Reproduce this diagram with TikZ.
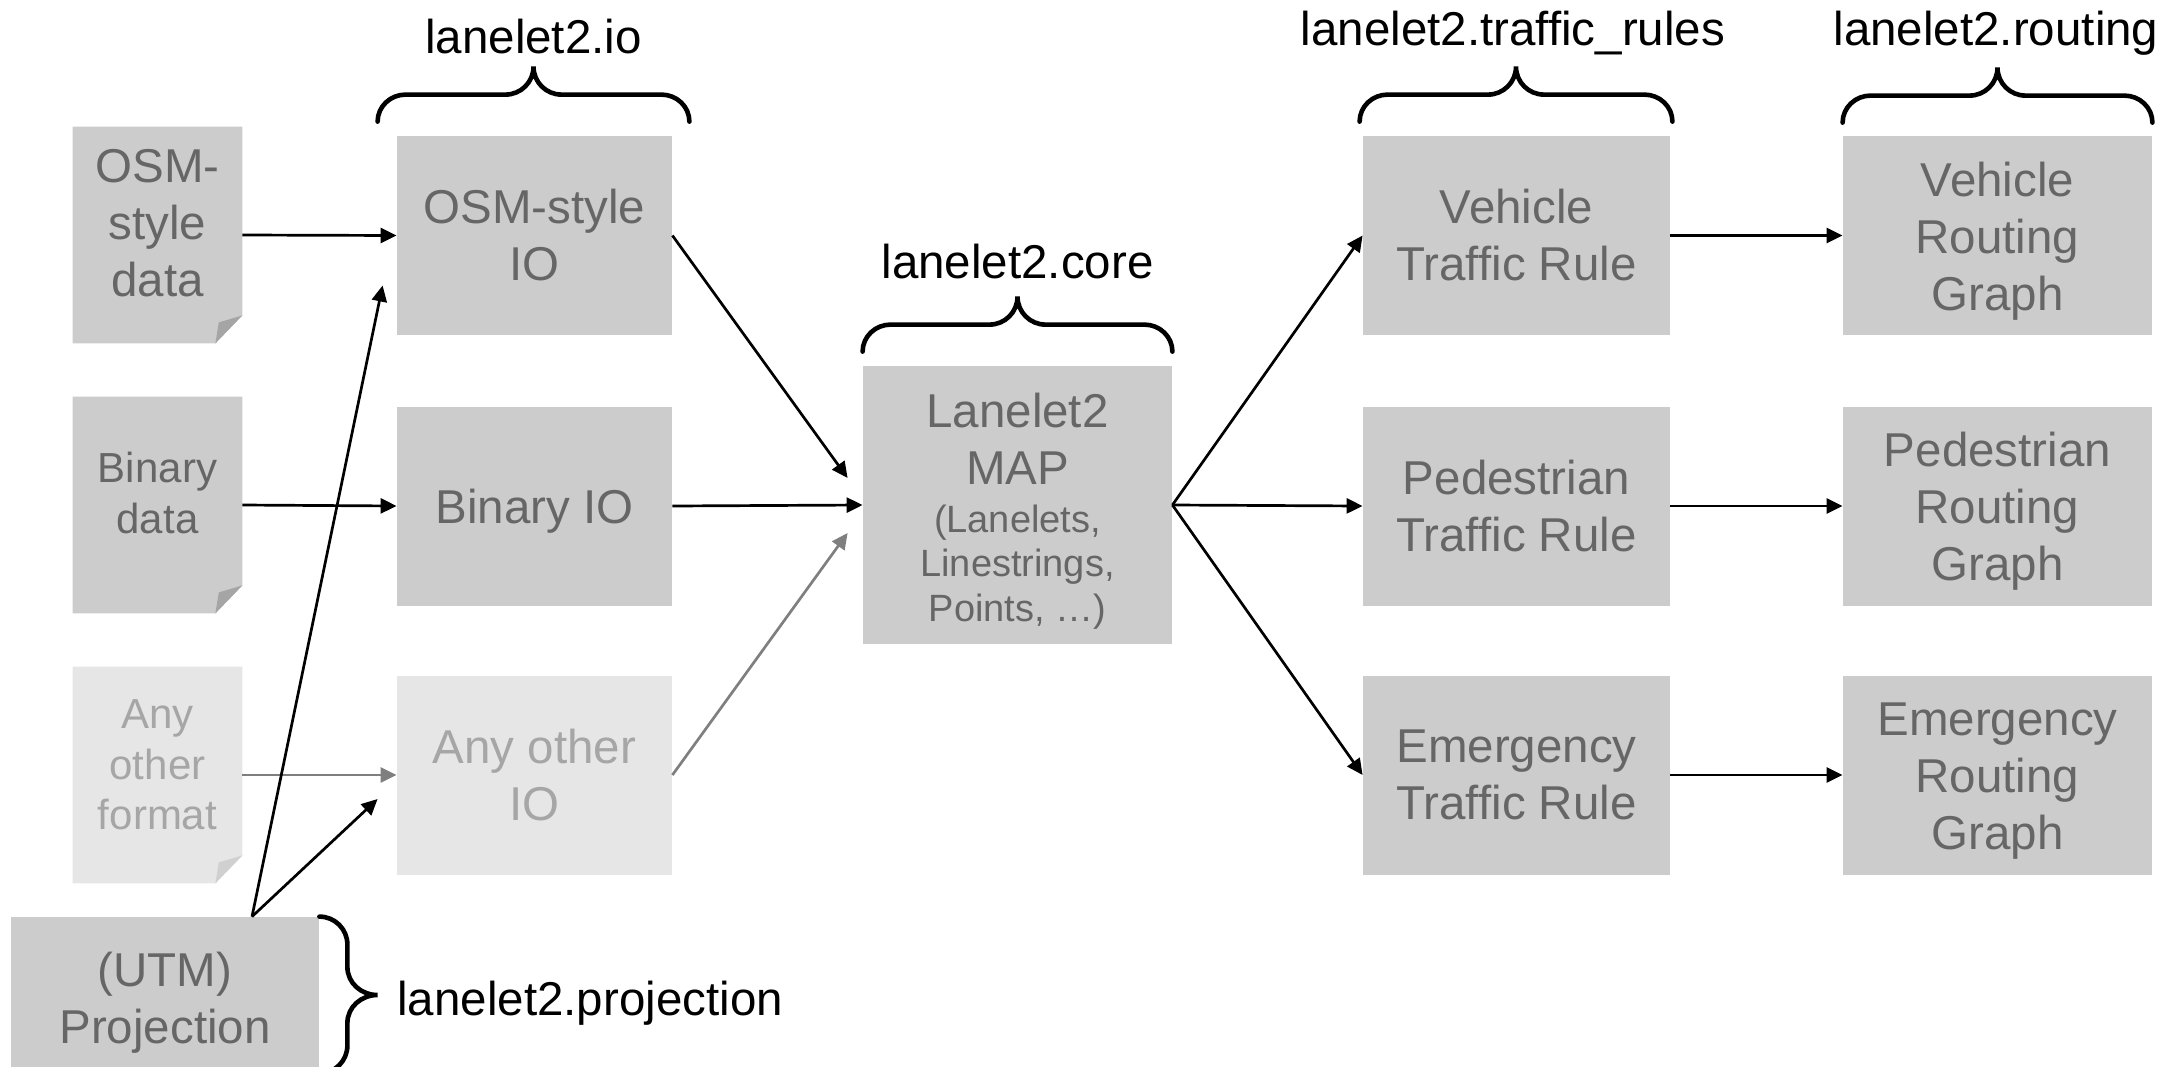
\documentclass[tikz,border=0pt]{standalone}
\usepackage{fontspec}
\setmainfont{Liberation Sans}
\usetikzlibrary{arrows.meta,calc}

\definecolor{boxgray}{HTML}{CCCCCC}
\definecolor{boxlight}{HTML}{E6E6E6}
\definecolor{textgray}{HTML}{666666}
\definecolor{textlight}{HTML}{A6A6A6}
\definecolor{folddark}{HTML}{A5A5A5}
\definecolor{foldlight}{HTML}{D0D0D0}
\definecolor{arrowgray}{HTML}{7F7F7F}

\tikzset{
  grayBox/.style={rectangle, fill=boxgray, text=textgray, align=center, inner sep=0pt,
    minimum height=99.5pt, font=\fontsize{23.75}{28.5}\selectfont},
  lightBox/.style={grayBox, fill=boxlight, text=textlight},
  docBox/.style={rectangle, inner sep=0pt, minimum width=84.5pt, minimum height=108pt},
  docText/.style={align=center, inner sep=0pt, text=textgray, font=\fontsize{21}{25.2}\selectfont},
  labelText/.style={inner sep=0pt, font=\fontsize{23.75}{28.5}\selectfont},
  arrowLine/.style={line width=1.35pt, -{Triangle[length=8pt,width=7.5pt]}},
  arrowGray/.style={arrowLine, draw=arrowgray, arrowgray},
  braceLine/.style={line width=2.3pt, line cap=round}
}

% document with folded corner
\newcommand{\myDocShape}[3]{
\fill[#2] (#1.north west) -- (#1.north east) -- ([yshift=14pt]#1.south east)
  -- ([xshift=-13.5pt]#1.south east) -- (#1.south west) -- cycle;
\fill[#3] ([yshift=14pt]#1.south east) -- ([xshift=-13.5pt]#1.south east)
  -- ([xshift=-11.8pt,yshift=10.5pt]#1.south east) -- cycle;
}
% curly braces
\newcommand{\myBraceUp}[2]{
\draw[braceLine] (#1) to[out=90,in=180] ++(14pt,13.5pt) -- ($(#1)!0.5!(#2)+(-14pt,13.5pt)$)
  to[out=0,in=-90] ++(14pt,14pt) to[out=-90,in=180] ++(14pt,-14pt)
  -- ($(#2)+(-14pt,13.5pt)$) to[out=0,in=90] (#2);
}
\newcommand{\myBraceRight}[2]{
\draw[braceLine] (#1) to[out=0,in=90] ++(14pt,-14pt) -- ($(#1)!0.5!(#2)+(14pt,14pt)$)
  to[out=-90,in=180] ++(15pt,-14pt) to[out=180,in=90] ++(-15pt,-14pt)
  -- ($(#2)+(14pt,14pt)$) to[out=-90,in=0] (#2);
}
% taller first line, pushes the text down a bit
\newcommand{\myLift}[1]{\rule{0pt}{#1}}

\begin{document}
\begin{tikzpicture}[x=0.5pt,y=-0.5pt]
			\useasboundingbox (0,0) rectangle (2169,1066);
			% data files
			\node[docBox] (osmdata) at (157.5,235) {};
			\node[docBox] (bindata) at (157.5,505) {};
			\node[docBox] (anydata) at (157.5,775) {};
			\myDocShape{osmdata}{boxgray}{folddark}
			\myDocShape{bindata}{boxgray}{folddark}
			\myDocShape{anydata}{boxlight}{foldlight}
			\node[docText, font=\fontsize{23.75}{28.5}\selectfont] (osmdatatxt) at ([yshift=6pt]osmdata.center) {OSM-\\style\\data};
			\node[docText] (bindatatxt) at ([yshift=6pt]bindata.center) {Binary\\data};
			\node[docText, text=textlight] (anydatatxt) at ([yshift=5pt]anydata.center) {Any\\other\\format};
			% projection
			\node[grayBox, minimum width=154pt, minimum height=78pt] (proj) at (165,995) {\myLift{25pt}(UTM)\\Projection};
			% io
			\node[grayBox, minimum width=137.5pt] (osmio) at (534.5,235.5) {OSM-style\\IO};
			\node[grayBox, minimum width=137.5pt, text depth=0pt] (binio) at (534.5,506) {Binary IO};
			\node[lightBox, minimum width=137.5pt] (anyio) at (534.5,775) {Any other\\IO};
			% core
			\node[grayBox, minimum width=154.5pt, minimum height=139pt] (core) at (1017.5,505)
			  {\myLift{23pt}Lanelet2\\MAP\\[-4.5pt]{\fontsize{19}{22}\selectfont (Lanelets,}\\[-6.25pt]{\fontsize{19}{22}\selectfont Linestrings,}\\[-6.25pt]{\fontsize{19}{22}\selectfont Points, …)}};
			% traffic rules
			\node[grayBox, minimum width=153.5pt] (vehrule) at (1516.5,235.5) {Vehicle\\Traffic Rule};
			\node[grayBox, minimum width=153.5pt] (pedrule) at (1516.5,506) {Pedestrian\\Traffic Rule};
			\node[grayBox, minimum width=153.5pt] (emgrule) at (1516.5,775) {Emergency\\Traffic Rule};
			% routing graphs
			\node[grayBox, minimum width=154.5pt] (vehgraph) at (1997.5,235.5) {\myLift{22.5pt}Vehicle\\Routing\\Graph};
			\node[grayBox, minimum width=154.5pt] (pedgraph) at (1997.5,506) {\myLift{22.5pt}Pedestrian\\Routing\\Graph};
			\node[grayBox, minimum width=154.5pt] (emggraph) at (1997.5,775) {\myLift{22.5pt}Emergency\\Routing\\Graph};
			% module labels
			\node[labelText, anchor=base] (iolabel) at (533.5,53) {lanelet2.io};
			\node[labelText, anchor=base] (corelabel) at (1017.5,278) {lanelet2.core};
			\node[labelText, anchor=base] (trlabel) at (1513,45) {lanelet2.traffic\_rules};
			\node[labelText, anchor=base] (rtlabel) at (1996,45) {lanelet2.routing};
			\node[labelText, anchor=base west] (projlabel) at (397,1015) {lanelet2.projection};
			% braces
			\myBraceUp{[shift={(-9.5pt,7pt)}]osmio.north west}{[shift={(8.5pt,7pt)}]osmio.north east}
			\myBraceUp{[yshift=7pt]core.north west}{[yshift=7pt]core.north east}
			\myBraceUp{[shift={(-1.5pt,7pt)}]vehrule.north west}{[shift={(1pt,7pt)}]vehrule.north east}
			\myBraceUp{[yshift=6.5pt]vehgraph.north west}{[yshift=6.5pt]vehgraph.north east}
			\myBraceRight{proj.north east}{proj.south east}
			% arrows
			\draw[arrowLine] (osmdata.east) -- (osmio.west);
			\draw[arrowLine] (bindata.east) -- (binio.west);
			\draw[arrowGray] (anydata.east) -- (anyio.west);
			\draw[arrowLine] ([xshift=43.5pt]proj.north) -- ([xshift=-7pt,yshift=-25pt]osmio.west);
			\draw[arrowLine] ([xshift=43.5pt]proj.north) -- ([xshift=-9.5pt,yshift=-12pt]anyio.west);
			\draw[arrowLine] (osmio.east) -- ([xshift=-7.5pt,yshift=13.5pt]core.west);
			\draw[arrowLine] (binio.east) -- (core.west);
			\draw[arrowGray] (anyio.east) -- ([xshift=-7.5pt,yshift=-14pt]core.west);
			\foreach \n in {veh,ped,emg}{
			  \draw[arrowLine] (core.east) -- (\n rule.west);
			  \draw[arrowLine] (\n rule.east) -- (\n graph.west);
			}
\end{tikzpicture}
\end{document}
